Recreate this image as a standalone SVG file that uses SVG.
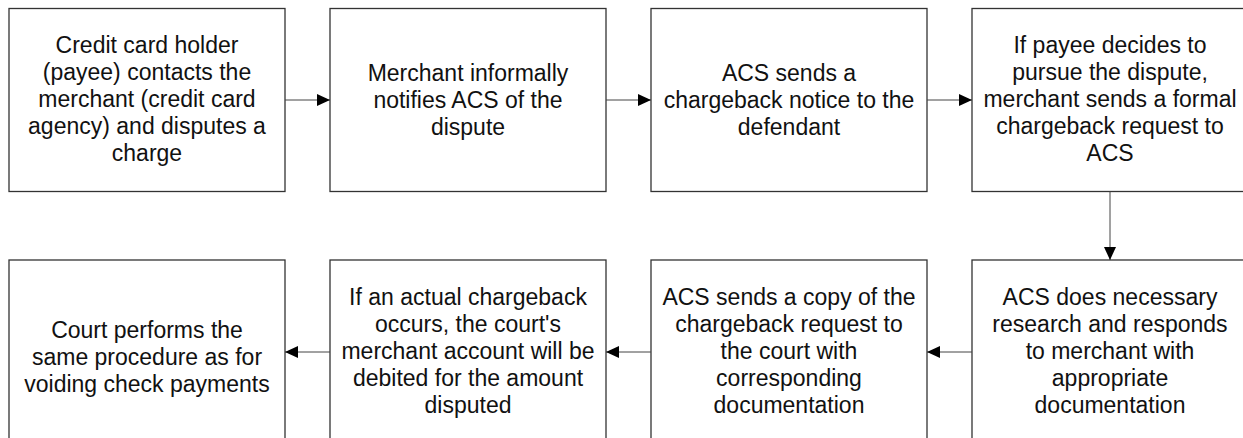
<svg xmlns="http://www.w3.org/2000/svg" width="1243" height="438" viewBox="0 0 1243 438">
<style>
.box{fill:#ffffff;stroke:#333333;stroke-width:1.3}
.lbl{font-family:"Liberation Sans",Arial,sans-serif;font-size:23px;fill:#111111;text-anchor:middle}
.con{stroke:#444444;stroke-width:1;fill:none;marker-end:url(#ah)}
</style>
<defs>
<marker id="ah" viewBox="0 0 13 12" refX="13" refY="6" markerWidth="13" markerHeight="12" markerUnits="userSpaceOnUse" orient="auto">
<path d="M0,0 L13,6 L0,12 Z" fill="#000000"/>
</marker>
</defs>
<rect width="1243" height="438" fill="#ffffff"/>
<g id="n1">
<rect class="box" x="9" y="8.5" width="276" height="183"/>
<text class="lbl" x="147"><tspan x="147" y="53">Credit card holder</tspan><tspan x="147" y="80">(payee) contacts the</tspan><tspan x="147" y="107">merchant (credit card</tspan><tspan x="147" y="134">agency) and disputes a</tspan><tspan x="147" y="161">charge</tspan></text>
</g>
<g id="n2">
<rect class="box" x="330" y="8.5" width="276" height="183"/>
<text class="lbl" x="468"><tspan x="468" y="81">Merchant informally</tspan><tspan x="468" y="108">notifies ACS of the</tspan><tspan x="468" y="135">dispute</tspan></text>
</g>
<g id="n3">
<rect class="box" x="651" y="8.5" width="276" height="183"/>
<text class="lbl" x="789"><tspan x="789" y="81">ACS sends a</tspan><tspan x="789" y="108">chargeback notice to the</tspan><tspan x="789" y="135">defendant</tspan></text>
</g>
<g id="n4">
<rect class="box" x="972" y="8.5" width="276" height="183"/>
<text class="lbl" x="1110"><tspan x="1110" y="53">If payee decides to</tspan><tspan x="1110" y="80">pursue the dispute,</tspan><tspan x="1110" y="107">merchant sends a formal</tspan><tspan x="1110" y="134">chargeback request to</tspan><tspan x="1110" y="161">ACS</tspan></text>
</g>
<g id="n5">
<rect class="box" x="972" y="260" width="276" height="183"/>
<text class="lbl" x="1110"><tspan x="1110" y="305">ACS does necessary</tspan><tspan x="1110" y="332">research and responds</tspan><tspan x="1110" y="359">to merchant with</tspan><tspan x="1110" y="386">appropriate</tspan><tspan x="1110" y="413">documentation</tspan></text>
</g>
<g id="n6">
<rect class="box" x="651" y="260" width="276" height="183"/>
<text class="lbl" x="789"><tspan x="789" y="305">ACS sends a copy of the</tspan><tspan x="789" y="332">chargeback request to</tspan><tspan x="789" y="359">the court with</tspan><tspan x="789" y="386">corresponding</tspan><tspan x="789" y="413">documentation</tspan></text>
</g>
<g id="n7">
<rect class="box" x="330" y="260" width="276" height="183"/>
<text class="lbl" x="468"><tspan x="468" y="305">If an actual chargeback</tspan><tspan x="468" y="332">occurs, the court's</tspan><tspan x="468" y="359">merchant account will be</tspan><tspan x="468" y="386">debited for the amount</tspan><tspan x="468" y="413">disputed</tspan></text>
</g>
<g id="n8">
<rect class="box" x="9" y="260" width="276" height="183"/>
<text class="lbl" x="147"><tspan x="147" y="338">Court performs the</tspan><tspan x="147" y="365">same procedure as for</tspan><tspan x="147" y="392">voiding check payments</tspan></text>
</g>
<g id="connectors">
<path class="con" d="M285,100 L330,100"/>
<path class="con" d="M606,100 L651,100"/>
<path class="con" d="M927,100 L972,100"/>
<path class="con" d="M1110,191.5 L1110,260"/>
<path class="con" d="M972,352 L927,352"/>
<path class="con" d="M651,352 L606,352"/>
<path class="con" d="M330,352 L285,352"/>
</g>
</svg>
